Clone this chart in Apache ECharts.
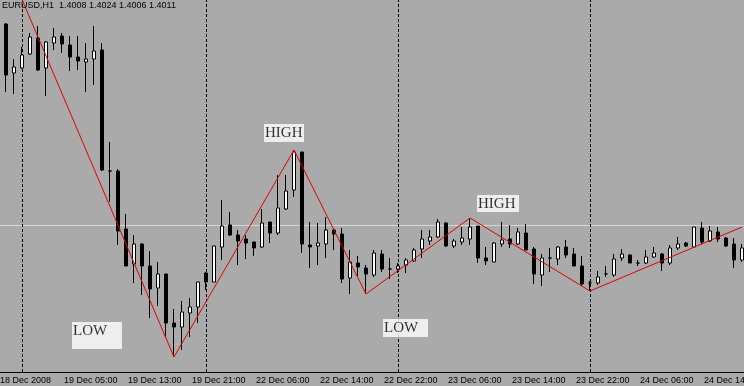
<!DOCTYPE html>
<html>
<head>
<meta charset="utf-8">
<script src="https://cdn.jsdelivr.net/npm/echarts@6/dist/echarts.min.js"></script>
<style>
html, body { margin: 0; padding: 0; background: #aaaaaa; }
#mychart { width: 744px; height: 386px; }
</style>
</head>
<body>
<div id="mychart"></div>
<script>
// EURUSD H1, 18 Dec 21:00 .. 24 Dec 19:00
var dayNames = ['18 Dec', '19 Dec', '22 Dec', '23 Dec', '24 Dec'];
var dayFirstHour = [21, 0, 0, 0, 0];
var dayLastHour = [23, 22, 23, 23, 19];

var tickLabels = ['18 Dec 2008', '19 Dec 05:00', '19 Dec 13:00', '19 Dec 21:00', '22 Dec 06:00', '22 Dec 14:00',
	'22 Dec 22:00', '23 Dec 06:00', '23 Dec 14:00', '23 Dec 22:00', '24 Dec 06:00', '24 Dec 14:00'];

var openList = [
	1.4213, 1.4212, 1.4163, 1.4168, 1.4182, 1.4198, 1.4168, 1.4193, 1.4200, 1.4191,
	1.4179, 1.4174, 1.4177, 1.4186, 1.4065, 1.4065, 1.4007, 1.3972, 1.3992, 1.3970,
	1.3948, 1.3962, 1.3913, 1.3909, 1.3923, 1.3929, 1.3963, 1.3954, 1.3989, 1.4011,
	1.4001, 1.3997, 1.3994, 1.3989, 1.4014, 1.4003, 1.4027, 1.4046, 1.4084, 1.3991,
	1.3990, 1.3992, 1.4006, 1.4002, 1.3958, 1.3973, 1.3968, 1.3961, 1.3982, 1.3967,
	1.3967, 1.3971, 1.3975, 1.3987, 1.3995, 1.3999, 1.4013, 1.3990, 1.3994, 1.3997,
	1.4010, 1.3978, 1.3974, 1.3992, 1.3997, 1.3992, 1.4003, 1.3987, 1.3961, 1.3978,
	1.3977, 1.3989, 1.3982, 1.3970, 1.3953, 1.3953, 1.3962, 1.3961, 1.3978, 1.3981,
	1.3973, 1.3973, 1.3979, 1.3982, 1.3973, 1.3988, 1.3993, 1.3989, 1.4008, 1.3995,
	1.4004, 1.3998, 1.3992, 1.3976
];
var closeList = [
	1.4203, 1.4161, 1.4169, 1.4181, 1.4199, 1.4166, 1.4194, 1.4199, 1.4192, 1.4179,
	1.4175, 1.4177, 1.4185, 1.4066, 1.4065, 1.4005, 1.3970, 1.3992, 1.3970, 1.3947,
	1.3962, 1.3913, 1.3909, 1.3924, 1.3929, 1.3954, 1.3954, 1.3990, 1.4010, 1.4001,
	1.3995, 1.3993, 1.3988, 1.4013, 1.4003, 1.4028, 1.4045, 1.4084, 1.3992, 1.3989,
	1.3993, 1.4006, 1.4002, 1.3957, 1.3974, 1.3969, 1.3962, 1.3983, 1.3967, 1.3967,
	1.3970, 1.3976, 1.3986, 1.3997, 1.3999, 1.4014, 1.3990, 1.3995, 1.3998, 1.4009,
	1.3978, 1.3975, 1.3993, 1.3996, 1.3992, 1.4004, 1.3986, 1.3962, 1.3978, 1.3978,
	1.3989, 1.3981, 1.3970, 1.3952, 1.3953, 1.3959, 1.3962, 1.3977, 1.3982, 1.3973,
	1.3973, 1.3979, 1.3983, 1.3973, 1.3988, 1.3992, 1.3990, 1.4009, 1.3994, 1.4005,
	1.3997, 1.3990, 1.3976, 1.3988
];
var lowList = [
	1.4196, 1.4144, 1.4142, 1.4167, 1.4181, 1.4165, 1.4140, 1.4186, 1.4183, 1.4165,
	1.4166, 1.4144, 1.4151, 1.4065, 1.4034, 1.3991, 1.3970, 1.3953, 1.3941, 1.3918,
	1.3930, 1.3898, 1.3879, 1.3886, 1.3899, 1.3913, 1.3946, 1.3954, 1.3976, 1.4000,
	1.3971, 1.3977, 1.3980, 1.3988, 1.3993, 1.4001, 1.4026, 1.4039, 1.3983, 1.3968,
	1.3971, 1.3978, 1.3986, 1.3953, 1.3942, 1.3960, 1.3942, 1.3959, 1.3964, 1.3957,
	1.3963, 1.3963, 1.3974, 1.3978, 1.3991, 1.3998, 1.3989, 1.3988, 1.3991, 1.3991,
	1.3973, 1.3971, 1.3974, 1.3989, 1.3988, 1.3991, 1.3986, 1.3952, 1.3950, 1.3964,
	1.3971, 1.3978, 1.3970, 1.3950, 1.3945, 1.3951, 1.3959, 1.3959, 1.3975, 1.3973,
	1.3970, 1.3972, 1.3978, 1.3965, 1.3971, 1.3986, 1.3989, 1.3989, 1.3992, 1.3994,
	1.3994, 1.3989, 1.3968, 1.3974
];
var highList = [
	1.4214, 1.4213, 1.4177, 1.4189, 1.4203, 1.4210, 1.4195, 1.4208, 1.4203, 1.4200,
	1.4200, 1.4193, 1.4210, 1.4193, 1.4094, 1.4067, 1.4022, 1.4001, 1.3993, 1.3985,
	1.3974, 1.3962, 1.3927, 1.3935, 1.3938, 1.3954, 1.3964, 1.3990, 1.4036, 1.4024,
	1.4006, 1.4001, 1.3994, 1.4027, 1.4014, 1.4061, 1.4061, 1.4086, 1.4084, 1.4014,
	1.4013, 1.4019, 1.4008, 1.4008, 1.3986, 1.3980, 1.3971, 1.3986, 1.3986, 1.3978,
	1.3973, 1.3978, 1.3988, 1.4006, 1.4006, 1.4017, 1.4014, 1.3997, 1.4009, 1.4018,
	1.4010, 1.3989, 1.3994, 1.4014, 1.4011, 1.4008, 1.4012, 1.3989, 1.3982, 1.3988,
	1.3990, 1.3996, 1.3988, 1.3980, 1.3955, 1.3965, 1.3970, 1.3982, 1.3987, 1.3982,
	1.3976, 1.3986, 1.3989, 1.3983, 1.3991, 1.3999, 1.3994, 1.4009, 1.4014, 1.4010,
	1.4009, 1.3999, 1.3998, 1.3992
];

// zigzag turning points (bar index, price)
var zigzagIndex = [0, 22, 37, 46, 59, 74, 93];
var zigzagPrice = [1.4293, 1.3879, 1.4086, 1.3942, 1.4018, 1.3945, 1.4009];

// text objects on the chart
var noteText = ['LOW', 'HIGH', 'LOW', 'HIGH'];
var noteIndex = [9, 33, 48, 60];
var notePrice = [1.3914, 1.4112, 1.3917, 1.4041];

var bidPrice = 1.4011;
var dayStartIndex = [3, 26, 50, 74];
var headerText = 'EURUSD,H1  1.4008 1.4024 1.4006 1.4011';

var chart = {
	initial : function initial() {
		this.categories = this.buildCategories();
		this.drawChart();
	},

	buildCategories : function buildCategories() {
		var list = [];
		for (var d = 0; d < dayNames.length; d++) {
			for (var h = dayFirstHour[d]; h <= dayLastHour[d]; h++) {
				list.push(dayNames[d] + ' ' + (h < 10 ? '0' + h : h) + ':00');
			}
		}
		return list;
	},

	drawChart : function drawChart() {
		var cats = this.categories;
		var candles = [];
		for (var i = 0; i < cats.length; i++) {
			candles.push([openList[i], closeList[i], lowList[i], highList[i]]);
		}

		var zigzag = [];
		for (var i = 0; i < cats.length; i++) zigzag.push(null);
		for (var j = 0; j < zigzagIndex.length; j++) zigzag[zigzagIndex[j]] = zigzagPrice[j];

		var dayLines = [];
		for (var k = 0; k < dayStartIndex.length; k++) {
			dayLines.push({
				xAxis : cats[dayStartIndex[k]],
				lineStyle : { color : '#000', type : [3, 2], width : 1 }
			});
		}

		// box: [dx, width, height]
		var noteBox = [[2, 50, 27], [2, 40, 18], [1, 45, 18], [-1, 42, 17]];
		var notes = [];
		for (var n = 0; n < noteText.length; n++) {
			notes.push({
				name : noteText[n],
				value : [cats[noteIndex[n]], notePrice[n]],
				label : {
					position : [noteBox[n][0], 0],
					width : noteBox[n][1] - 1,
					height : noteBox[n][2] - 2
				}
			});
		}

		var option = {
			animation : false,
			backgroundColor : '#aaaaaa',
			title : {
				text : headerText,
				left : 2,
				top : 1,
				padding : 0,
				textStyle : {
					color : '#000',
					fontFamily : 'Liberation Sans',
					fontSize : 9,
					fontWeight : 'normal'
				}
			},
			grid : {
				left : -6,
				right : -2,
				top : 0,
				bottom : 14,
				outerBoundsMode : 'none',
				containLabel : false
			},
			xAxis : {
				type : 'category',
				data : cats,
				boundaryGap : true,
				axisLine : { lineStyle : { color : '#000', width : 1 } },
				axisTick : {
					alignWithLabel : true,
					length : 3,
					interval : function(idx) { return idx % 8 === 0; },
					lineStyle : { color : '#000' }
				},
				axisLabel : {
					interval : function(idx) { return idx % 8 === 0; },
					formatter : function(value, idx) { return tickLabels[idx / 8]; },
					align : 'left',
					margin : 4,
					padding : [0, 0, 0, 2],
					hideOverlap : false,
					color : '#000',
					fontFamily : 'Liberation Sans',
					fontSize : 9
				},
				splitLine : { show : false }
			},
			yAxis : {
				type : 'value',
				min : 1.3864,
				max : 1.4236,
				show : false,
				splitLine : { show : false }
			},
			series : [
				{
					name : 'EURUSD',
					type : 'candlestick',
					data : candles,
					barWidth : 4,
					z : 2,
					itemStyle : {
						color : '#ffffff',
						color0 : '#000000',
						borderColor : '#000000',
						borderColor0 : '#000000',
						borderWidth : 1
					}
				},
				{
					name : 'ZigZag',
					type : 'line',
					data : zigzag,
					connectNulls : true,
					symbol : 'none',
					lineStyle : { color : '#e00000', width : 1 },
					z : 3,
					markLine : {
						silent : true,
						symbol : 'none',
						precision : 6,
						label : { show : false },
						z : 1,
						data : [
							{ yAxis : bidPrice, lineStyle : { color : '#d6d6d6', type : 'solid', width : 1 } }
						].concat(dayLines)
					}
				},
				{
					name : 'notes',
					type : 'scatter',
					symbolSize : 0,
					data : notes,
					z : 4,
					label : {
						show : true,
						formatter : '{b}',
						align : 'left',
						verticalAlign : 'top',
						backgroundColor : '#ffffff',
						color : '#000',
						fontFamily : 'Liberation Serif',
						fontSize : 15,
						lineHeight : 15,
						padding : [2, 0, 0, 1]
					}
				}
			]
		};
		var myChart = echarts.init(document.getElementById('mychart'));
		myChart.setOption(option);
	}
};

chart.initial();
</script>
</body>
</html>
